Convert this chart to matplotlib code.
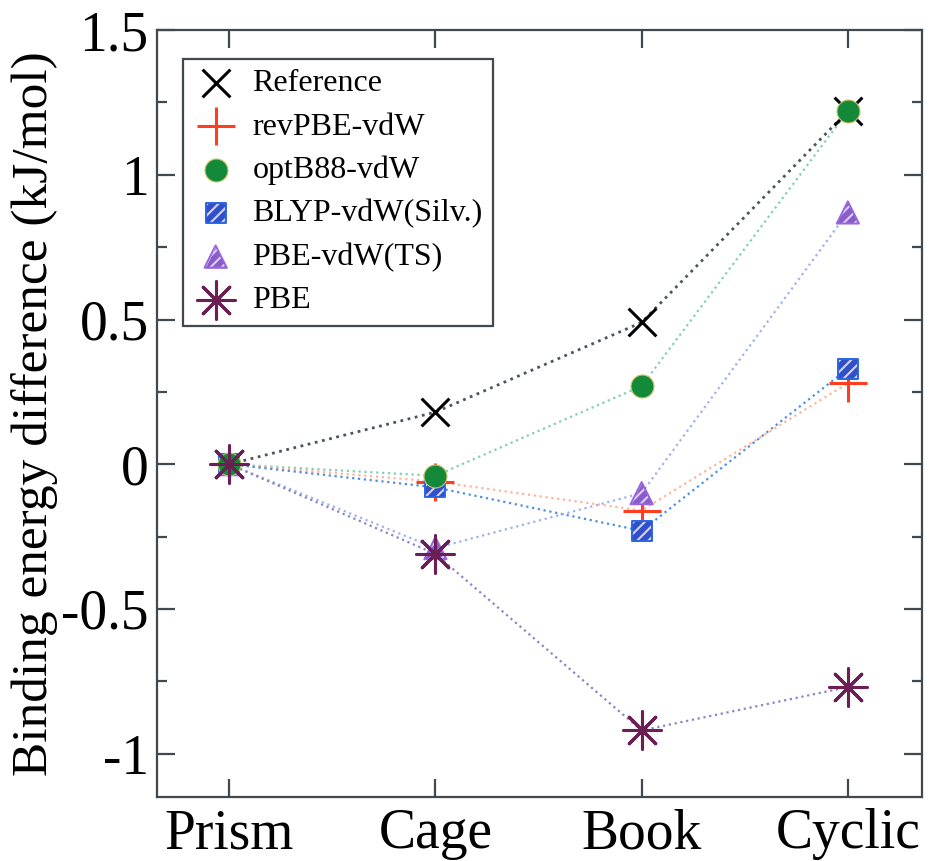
import numpy as np
import matplotlib
matplotlib.use("Agg")
import matplotlib.pyplot as plt

plt.rcParams['font.family'] = ['Liberation Serif', 'DejaVu Serif']
plt.rcParams['hatch.linewidth'] = 1.5

structures = ['Prism', 'Cage', 'Book', 'Cyclic']

reference = [0.0, 0.18, 0.49, 1.22]
rev_pbe = [0.0, -0.06, -0.16, 0.28]
opt_b88 = [0.0, -0.04, 0.27, 1.22]
blyp_silv = [0.0, -0.08, -0.23, 0.33]
pbe_ts = [0.0, -0.29, -0.10, 0.87]
pbe = [0.0, -0.31, -0.92, -0.77]

x = np.arange(len(structures))

fig = plt.figure(figsize=(9.38, 8.61), dpi=100)
ax = fig.add_axes([0.1674, 0.0743, 0.8156, 0.8907])

# dotted connecting lines
ax.plot(x, opt_b88, ls=':', lw=1.6, color='#80d0b0', zorder=1)
ax.plot(x, rev_pbe, ls=':', lw=1.6, color='#ffb49a', zorder=1)
ax.plot(x, blyp_silv, ls=':', lw=1.6, color='#4f8fe0', zorder=1)
ax.plot(x, pbe_ts, ls=':', lw=1.6, color='#9fb0f0', zorder=1)
ax.plot(x, pbe, ls=':', lw=1.6, color='#8a84c8', zorder=1)
ax.plot(x, reference, ls=':', lw=2.0, color='#4a5560', zorder=1)


def hatched(xs, ys, marker, size, face, edge, z):
    # filled marker, light stripes on top, then the outline
    a = ax.scatter(xs, ys, marker=marker, s=size**2, linewidths=0,
                   facecolor=face, zorder=z)
    b = ax.scatter(xs, ys, marker=marker, s=size**2, linewidths=0,
                   facecolor='none', edgecolor='#d8d0ff', hatch='///',
                   zorder=z)
    c = ax.scatter(xs, ys, marker=marker, s=size**2, linewidths=1.4,
                   facecolor='none', edgecolor=edge, zorder=z)
    return (a, b, c)


# markers
h_ref = ax.scatter(x, reference, marker='x', s=20**2, linewidths=2.2,
                   color='black', zorder=3)
h_rev = ax.scatter(x, rev_pbe, marker='+', s=27**2, linewidths=2.2,
                   color='#ff3d1f', zorder=4)
h_opt = ax.scatter(x, opt_b88, marker='o', s=16.5**2, linewidths=0.8,
                   facecolor='#138a3a', edgecolor='#c8c060', zorder=5)
h_blyp = hatched(x, blyp_silv, 's', 14.5, '#3050c8', '#2a66e0', 4)
h_ts = hatched(x, pbe_ts, '^', 16, '#8a5cc8', '#9a66dd', 4)
h_pbe = ax.scatter(x, pbe, marker=(8, 2, 0), s=27**2, linewidths=2.2,
                   color='#6b1f55', zorder=6)
ax.scatter(x, pbe, marker='o', s=3**2, color='#6b1f55', zorder=6)

ax.set_xlim(-0.35, 3.36)
ax.set_ylim(-1.15, 1.5)
ax.set_xticks(x)
ax.set_xticklabels(structures)
ax.set_yticks([-1, -0.5, 0, 0.5, 1, 1.5])
ax.set_yticklabels(['-1', '-0.5', '0', '0.5', '1', '1.5'])
ax.set_yticks(np.arange(-0.75, 1.5, 0.5), minor=True)

spine_col = '#404850'
for sp in ax.spines.values():
    sp.set_color(spine_col)
    sp.set_linewidth(1.6)
ax.tick_params(which='both', direction='in', top=True, right=True,
               color=spine_col, width=1.6)
ax.tick_params(which='major', length=13, labelsize=40, pad=6)
ax.tick_params(which='minor', length=7)
ax.tick_params(axis='x', pad=8)

ax.set_ylabel('Binding energy difference (kJ/mol)', fontsize=37, labelpad=2)

labels = ['Reference', 'revPBE-vdW', 'optB88-vdW', 'BLYP-vdW(Silv.)',
          'PBE-vdW(TS)', 'PBE']
leg = ax.legend([h_ref, h_rev, h_opt, h_blyp, h_ts, h_pbe], labels,
                loc='upper left', bbox_to_anchor=(0.034, 0.963),
                fontsize=23, scatterpoints=1, fancybox=False, framealpha=1,
                edgecolor=spine_col, borderpad=0.32, labelspacing=0.44,
                handletextpad=0.45, handlelength=1.4, borderaxespad=0)
leg.get_frame().set_linewidth(1.6)

fig.savefig('out.png', dpi=100)
